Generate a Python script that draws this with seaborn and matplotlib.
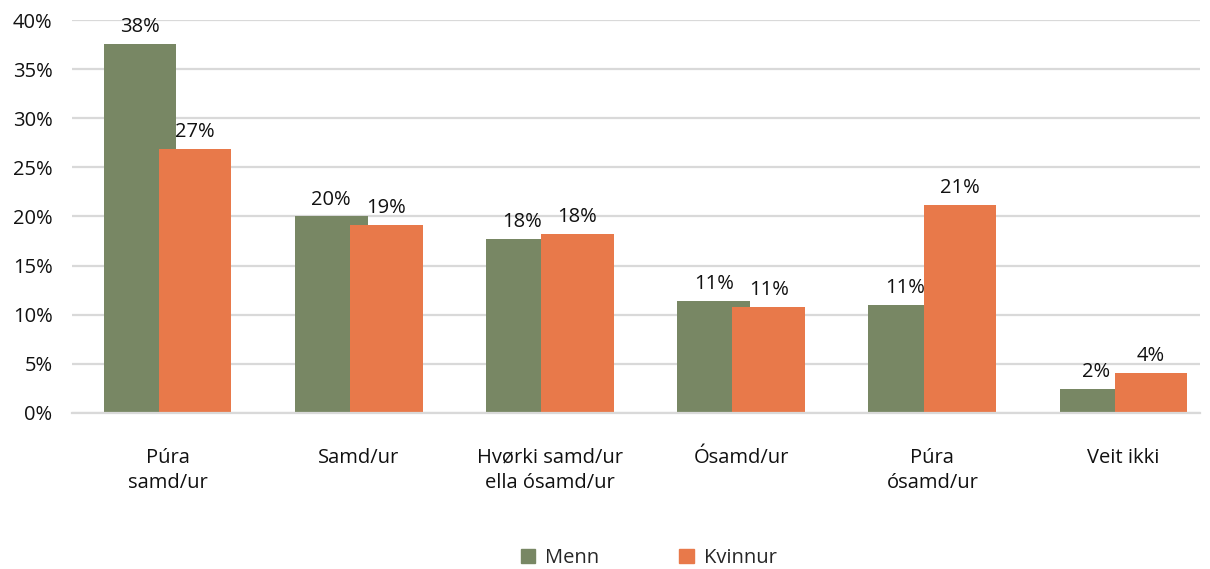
import pandas as pd
import matplotlib.pyplot as plt
import seaborn as sns

# values (percent)
categories = ["Púra\nsamd/ur", "Samd/ur", "Hvørki samd/ur\nella ósamd/ur",
              "Ósamd/ur", "Púra\nósamd/ur", "Veit ikki"]
menn = [37.6, 20.0, 17.7, 11.4, 11.0, 2.4]
kvinnur = [26.9, 19.1, 18.2, 10.8, 21.2, 4.1]
series = ["Menn", "Kvinnur"]
colors = ["#788764", "#E8794A"]

df = pd.DataFrame({
    "cat": categories * 2,
    "val": menn + kvinnur,
    "kyn": ["Menn"] * len(menn) + ["Kvinnur"] * len(kvinnur),
})

sns.set_style("white")
plt.rcParams["font.family"] = ["Open Sans", "DejaVu Sans"]
fs = 14.5

fig = plt.figure(figsize=(12.1, 5.69), dpi=100)
ax = fig.add_axes([72 / 1210, 1 - 413 / 569, (1200 - 72) / 1210, (413 - 20) / 569])

sns.barplot(data=df, x="cat", y="val", hue="kyn", hue_order=series,
            palette=colors, width=0.76, dodge=True, saturation=1,
            errorbar=None, ax=ax, legend=False, linewidth=0)

# bars overlap a bit in the original, so pull each pair together
shift = 0.046
n = len(categories)
for i, bar in enumerate(ax.patches[:2 * n]):
    bar.set_linewidth(0)
    if i < n:
        bar.set_x(bar.get_x() + shift)
        bar.set_zorder(2)
    else:
        bar.set_x(bar.get_x() - shift)
        bar.set_zorder(3)

for bar in ax.patches[:2 * n]:
    h = bar.get_height()
    ax.annotate(f"{h:.0f}%", (bar.get_x() + bar.get_width() / 2, h),
                xytext=(0, 5), textcoords="offset points",
                ha="center", va="bottom", fontsize=fs, color="#111111")

ax.set_ylim(0, 40)
ax.set_xlim(-0.5, 5.4)
ax.set_yticks(range(0, 41, 5))
ax.set_yticklabels([f"{v}%" for v in range(0, 41, 5)], fontsize=fs)
ax.tick_params(axis="y", length=0, pad=14, labelcolor="#111111")
ax.tick_params(axis="x", length=0, pad=25, labelsize=fs, labelcolor="#111111")
for lbl in ax.get_xticklabels():
    lbl.set_linespacing(1.35)
ax.yaxis.grid(True, color="#d9d9d9", linewidth=1.6)
ax.set_axisbelow(True)
for s in ["top", "right", "left"]:
    ax.spines[s].set_visible(False)
ax.spines["bottom"].set_color("#d9d9d9")
ax.spines["bottom"].set_linewidth(1.6)
ax.spines["bottom"].set_zorder(4)
ax.set_xlabel("")
ax.set_ylabel("")

handles = [plt.Rectangle((0, 0), 1, 1, color=c) for c in colors]
fig.legend(handles, series, loc="lower center", bbox_to_anchor=(0.536, -0.03),
           ncol=2, frameon=False, fontsize=fs, handlelength=0.7,
           handleheight=0.7, columnspacing=4.0, handletextpad=0.5)

fig.savefig("out.png", dpi=100)
